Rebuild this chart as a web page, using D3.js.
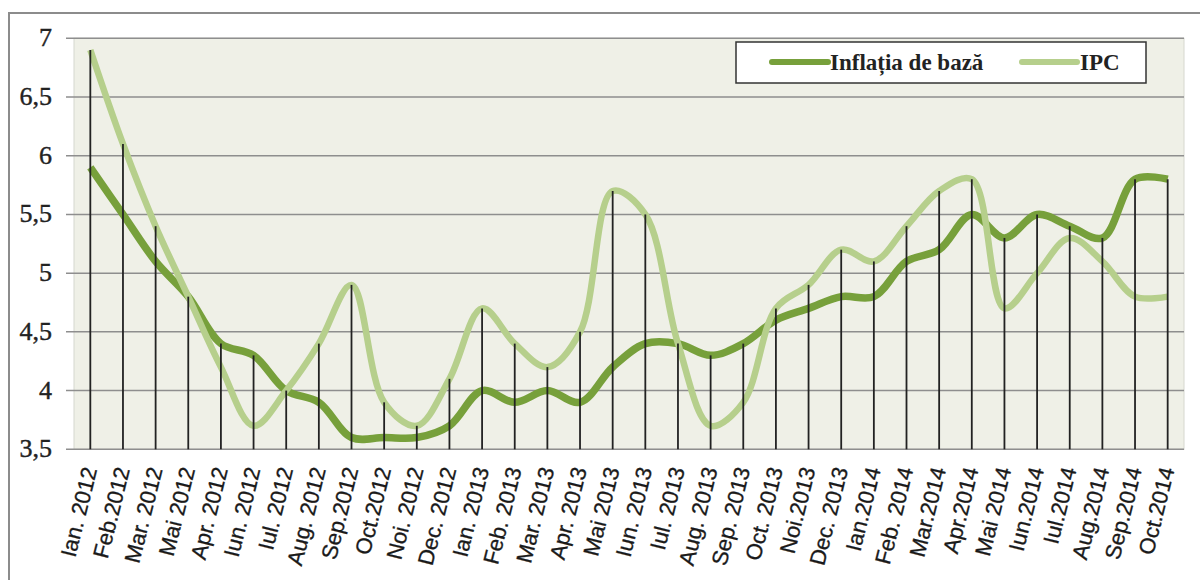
<!DOCTYPE html>
<html>
<head>
<meta charset="utf-8">
<script src="https://cdn.jsdelivr.net/npm/d3@7"></script>
<style>
  body { margin: 0; background: #fff; }
</style>
</head>
<body>
<script>
// Luni (etichete axa X)
const months = ['Ian. 2012', 'Feb.2012', 'Mar. 2012', 'Mai 2012', 'Apr. 2012', 'Iun. 2012', 'Iul. 2012', 'Aug. 2012',
  'Sep.2012', 'Oct.2012', 'Noi. 2012', 'Dec. 2012', 'Ian. 2013', 'Feb. 2013', 'Mar. 2013', 'Apr. 2013', 'Mai 2013',
  'Iun. 2013', 'Iul. 2013', 'Aug. 2013', 'Sep. 2013', 'Oct. 2013', 'Noi.2013', 'Dec. 2013', 'Ian.2014', 'Feb. 2014',
  'Mar.2014', 'Apr.2014', 'Mai 2014', 'Iun.2014', 'Iul.2014', 'Aug.2014', 'Sep.2014', 'Oct.2014'];

// Inflatia de baza
const coreInflation = [5.9, 5.5, 5.1, 4.8, 4.4, 4.3, 4.0, 3.9, 3.6, 3.6, 3.6, 3.7, 4.0, 3.9, 4.0, 3.9, 4.2,
  4.4, 4.4, 4.3, 4.4, 4.6, 4.7, 4.8, 4.8, 5.1, 5.2, 5.5, 5.3, 5.5, 5.4, 5.3, 5.8, 5.8];

// IPC
const cpi = [6.9, 6.1, 5.4, 4.8, 4.2, 3.7, 4.0, 4.4, 4.9, 3.9, 3.7, 4.1, 4.7, 4.4, 4.2, 4.5, 5.7,
  5.5, 4.4, 3.7, 3.9, 4.7, 4.9, 5.2, 5.1, 5.4, 5.7, 5.8, 4.7, 5.0, 5.3, 5.1, 4.8, 4.8];

const yTicks = [3.5, 4, 4.5, 5, 5.5, 6, 6.5, 7];
const seriesNames = ['Inflația de bază', 'IPC'];

const width = 1200, height = 580;
const darkGreen = '#77a03b';
const lightGreen = '#b6cf8c';

let svg = d3.select('body')
  .append('svg')
  .attr('width', width)
  .attr('height', height)
  .attr('xmlns', 'http://www.w3.org/2000/svg');

// chenar exterior
svg.append('rect')
  .attr('x', 9)
  .attr('y', 13)
  .attr('width', 1220)
  .attr('height', 600)
  .attr('fill', 'white')
  .attr('stroke', '#8c8c8c')
  .attr('stroke-width', 2);

const x = d3.scaleBand()
  .domain(months)
  .range([74, 1184]);

const y = d3.scaleLinear()
  .domain([3.5, 7])
  .range([449.3, 38.3]);

const cx = d => x(d) + x.bandwidth() / 2;

// fundal zona grafic
svg.append('rect')
  .attr('x', 74)
  .attr('y', y(7))
  .attr('width', 1184 - 74)
  .attr('height', y(3.5) - y(7))
  .attr('fill', '#eff0e7')
  .attr('stroke', '#d6d8cf')
  .attr('stroke-width', 1);

// linii de grila orizontale
svg.append('g')
  .selectAll('line')
  .data(yTicks)
  .join('line')
  .attr('x1', 66)
  .attr('x2', 1184)
  .attr('y1', d => y(d))
  .attr('y2', d => y(d))
  .attr('stroke', '#8e8e8e')
  .attr('stroke-width', 1.5);

// etichete axa Y
const fmt = d3.formatLocale({ decimal: ',', thousands: '.', grouping: [3], currency: ['', ''] }).format('~g');
svg.append('g')
  .selectAll('text')
  .data(yTicks)
  .join('text')
  .attr('x', 52)
  .attr('y', d => y(d) + 8)
  .attr('text-anchor', 'end')
  .attr('font-family', 'Liberation Serif, serif')
  .attr('font-size', 26)
  .attr('fill', '#222')
  .attr('stroke', '#222')
  .attr('stroke-width', 0.4)
  .text(d => fmt(d));

// serii
const lineFunc = d3.line()
  .x((d, i) => cx(months[i]))
  .y(d => y(d))
  .curve(d3.curveCatmullRom.alpha(0.5));

svg.append('path')
  .attr('d', lineFunc(coreInflation))
  .attr('fill', 'none')
  .attr('stroke', darkGreen)
  .attr('stroke-width', 7.5)
  .attr('stroke-linejoin', 'round');

svg.append('path')
  .attr('d', lineFunc(cpi))
  .attr('fill', 'none')
  .attr('stroke', lightGreen)
  .attr('stroke-width', 6.5)
  .attr('stroke-linejoin', 'round');

// linii verticale (drop lines)
svg.append('g')
  .selectAll('line')
  .data(months)
  .join('line')
  .attr('x1', d => cx(d))
  .attr('x2', d => cx(d))
  .attr('y1', (d, i) => y(Math.max(coreInflation[i], cpi[i])))
  .attr('y2', y(3.5))
  .attr('stroke', '#222')
  .attr('stroke-width', 1.8);

// etichete axa X
svg.append('g')
  .selectAll('text')
  .data(months)
  .join('text')
  .attr('transform', d => `translate(${cx(d) + 7},${y(3.5) + 20}) rotate(-76)`)
  .attr('text-anchor', 'end')
  .attr('font-family', 'Liberation Sans, Arial, sans-serif')
  .attr('font-size', 22)
  .attr('fill', '#1a1a1a')
  .attr('stroke', '#1a1a1a')
  .attr('stroke-width', 0.3)
  .text(d => d);

// legenda
const legend = svg.append('g');
legend.append('rect')
  .attr('x', 736)
  .attr('y', 42)
  .attr('width', 410)
  .attr('height', 41)
  .attr('fill', 'white')
  .attr('stroke', '#333')
  .attr('stroke-width', 1.5);

const legendItems = [
  { name: seriesNames[0], color: darkGreen, x1: 772, x2: 828, tx: 830 },
  { name: seriesNames[1], color: lightGreen, x1: 1022, x2: 1077, tx: 1080 }
];

legend.selectAll('line')
  .data(legendItems)
  .join('line')
  .attr('x1', d => d.x1)
  .attr('x2', d => d.x2)
  .attr('y1', 62)
  .attr('y2', 62)
  .attr('stroke', d => d.color)
  .attr('stroke-width', 6)
  .attr('stroke-linecap', 'round');

legend.selectAll('text')
  .data(legendItems)
  .join('text')
  .attr('x', d => d.tx)
  .attr('y', 70)
  .attr('font-family', 'Liberation Serif, serif')
  .attr('font-weight', 'bold')
  .attr('font-size', 23)
  .attr('fill', '#222')
  .text(d => d.name);
</script>
</body>
</html>
